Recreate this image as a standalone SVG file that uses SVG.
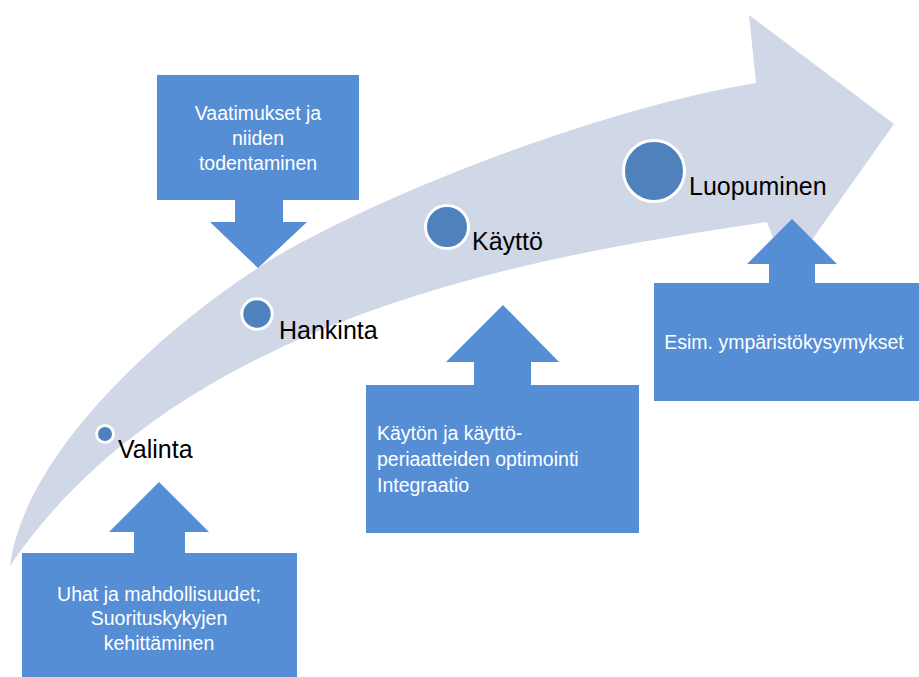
<svg xmlns="http://www.w3.org/2000/svg" width="919" height="677" viewBox="0 0 919 677">
<style>
.band{fill:#D0D8E7}
.box{fill:#558ED5}
.dot{fill:#4F81BD;stroke:#FFFFFF;stroke-width:3}
.lbl{font-family:"Liberation Sans",Arial,sans-serif;font-size:25px;fill:#000000}
.wt{font-family:"Liberation Sans",Arial,sans-serif;font-size:19.5px;fill:#FFFFFF}
.c{text-anchor:middle}
</style>
<rect width="919" height="677" fill="#FFFFFF"/>
<g id="timeline-arrow">
<path class="band" d="M10,566 C25,450 168,326 258,268 C353,206 590,110 756,83 L749,15 L894,124 L787,275 L767,222 C540,255 180,315 10,566 Z"/>
</g>
<g id="connectors"></g>
<g id="callout-vaatimukset">
<path class="box" d="M157,75 H359 V200 H283 V222 H307 L258,268 L210,222 H235 V200 H157 Z"/>
<text class="wt c" x="258" y="120">Vaatimukset ja</text>
<text class="wt c" x="258" y="145">niiden</text>
<text class="wt c" x="258" y="170">todentaminen</text>
</g>
<g id="callout-uhat">
<path class="box" d="M22,677 V553 H134 V532 H109 L159,482 L209,532 H185 V553 H297 V677 Z"/>
<text class="wt c" x="159" y="601">Uhat ja mahdollisuudet;</text>
<text class="wt c" x="159" y="625">Suorituskykyjen</text>
<text class="wt c" x="159" y="650">kehittäminen</text>
</g>
<g id="callout-kayton">
<path class="box" d="M366,533 V385 H474 V362 H446 L503,305 L559,362 H531 V385 H639 V533 Z"/>
<text class="wt" x="377" y="440">Käytön ja käyttö-</text>
<text class="wt" x="377" y="466">periaatteiden optimointi</text>
<text class="wt" x="377" y="492">Integraatio</text>
</g>
<g id="callout-esim">
<path class="box" d="M654,401 V283 H769 V264 H747 L792,219 L837,264 H815 V283 H919 V401 Z"/>
<text class="wt c" x="784" y="349">Esim. ympäristökysymykset</text>
</g>
<g id="stage-valinta">
<circle class="dot" cx="105" cy="434" r="8.5"/>
<text class="lbl" x="118" y="458">Valinta</text>
</g>
<g id="stage-hankinta">
<circle class="dot" cx="257" cy="314" r="15.2"/>
<text class="lbl" x="279" y="339">Hankinta</text>
</g>
<g id="stage-kaytto">
<circle class="dot" cx="447" cy="227" r="21.5"/>
<text class="lbl" x="472" y="250">Käyttö</text>
</g>
<g id="stage-luopuminen">
<circle class="dot" cx="654" cy="171" r="30.5"/>
<text class="lbl" x="689" y="195">Luopuminen</text>
</g>
</svg>
